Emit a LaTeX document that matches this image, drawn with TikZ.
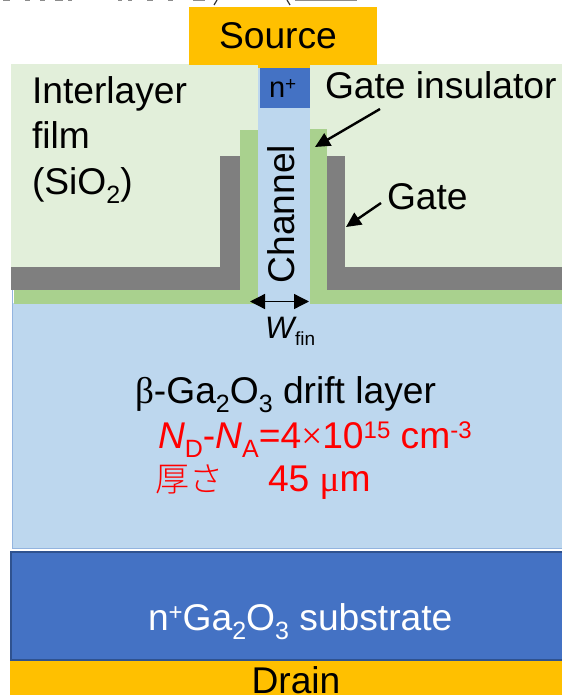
\documentclass[tikz,border=0pt]{standalone}
\usepackage{fontspec}
\setmainfont{Liberation Sans}
\newfontfamily\cjkfont{Noto Sans CJK JP Light}
\newfontfamily\symfont{Liberation Serif}
\usetikzlibrary{arrows.meta}
\definecolor{srcgold}{HTML}{FFC000}
\definecolor{ildgreen}{HTML}{E2EFDA}
\definecolor{insgreen}{HTML}{A9D18E}
\definecolor{gategray}{HTML}{7F7F7F}
\definecolor{driftblue}{HTML}{BDD7EE}
\definecolor{subblue}{HTML}{4472C4}
\definecolor{subedge}{HTML}{2F528F}
\newcommand{\lbl}{\fontsize{37.2}{40}\selectfont}
\newcommand{\lsub}[1]{\raisebox{-0.25em}{\fontsize{25}{25}\selectfont #1}}
\newcommand{\lsup}[1]{\raisebox{0.26em}{\fontsize{24}{24}\selectfont #1}}
\tikzset{
  x=1pt,y=-1pt,
  txt/.style={inner sep=0pt,outer sep=0pt,font=\lbl,text=black},
  redtxt/.style={txt,text=red,anchor=base west},
  callout/.style={line width=2.4pt,draw=black,-{Triangle[length=15pt,width=14pt]}},
  dim/.style={line width=1.3pt,draw=black,{Triangle[length=15pt,width=15pt]}-{Triangle[length=15pt,width=15pt]}},
  clipmark/.style={draw=black!45,line width=1pt}
}
\begin{document}
\begin{tikzpicture}
\useasboundingbox (0,0) rectangle (562,695);
% cut-off remains of a line of text above the picture
\foreach \a/\b in {3/10,25/30,40/45,55/63,68/72,118/122,128/132,147/153,168/173,193/205,295/357}
  \draw[clipmark] (\a,0.5) -- (\b,0.5);
\draw[line width=1.2pt,black!80] (217,0) -- (214,5);
\draw[line width=1.2pt,black!80] (287,0) -- (290,5);
% interlayer film
\fill[ildgreen] (11,64) rectangle (562,267);
\fill[ildgreen] (240,267) rectangle (327,300);
% drift and substrate
\fill[driftblue] (12,303) rectangle (562,548);
\draw[color=subblue!35!driftblue,line width=1pt] (12,290) -- (12,548) -- (562,548);
\fill[subblue] (11,552) rectangle (562,660);
\draw[subedge,line width=1.2pt] (562,552) -- (11,552) -- (11,660) -- (562,660);
\fill[srcgold] (10,661) rectangle (562,695);
% source
\fill[srcgold] (189,7) rectangle (377,65);
\fill[srcgold] (258,64) rectangle (310,68);
% insulator
\fill[insgreen] (14,290) rectangle (562,304);
\fill[insgreen] (240,130) rectangle (258,300);
\fill[insgreen] (310,129) rectangle (327,300);
% gate
\fill[gategray] (11,267) rectangle (240,290);
\fill[gategray] (220,156) rectangle (240,290);
\fill[gategray] (327,267) rectangle (562,290);
\fill[gategray] (327,156) rectangle (345,290);
% channel
\fill[driftblue] (258,68) rectangle (310,304);
\fill[subblue] (260,68) rectangle (310,108);
% texts
\node[txt,anchor=center] (src) at (278,36) {Source};
\node[txt,anchor=base west,font=\fontsize{29}{30}\selectfont] (nplus) at (269,98) {n\raisebox{0.25em}{\fontsize{19}{19}\selectfont +}};
\node[txt,anchor=base west] (ins) at (325,99) {Gate insulator};
\node[txt,anchor=base west] (ild1) at (32,103.5) {Interlayer};
\node[txt,anchor=base west] (ild2) at (32,149) {film};
\node[txt,anchor=base west] (ild3) at (32,194) {(SiO\lsub{2})};
\node[txt,anchor=base west] (gate) at (387,209) {Gate};
\node[txt,anchor=center,rotate=90] (chan) at (281,214) {Channel};
\node[txt,anchor=base west,font=\fontsize{31}{32}\selectfont] (wfin) at (265,338) {\textit{W}\kern-1.5pt\raisebox{-0.23em}{\fontsize{19}{20}\selectfont fin}};
\node[txt,anchor=base west] (drift) at (135,403) {{\symfont β}-Ga\lsub{2}O\lsub{3} drift layer};
\node[redtxt] (nd) at (158,448) {\textit{N}\lsub{D}-\textit{N}\lsub{A}=4{\symfont ×}10\lsup{15} cm\lsup{-3}};
\node[redtxt] (thick) at (155,491) {{\cjkfont\fontsize{34}{35}\selectfont 厚さ}};
\node[redtxt] (um) at (268,491.5) {45 {\symfont μ}m};
\node[txt,anchor=base west,text=white] (sub) at (148,630) {n\lsup{+}Ga\lsub{2}O\lsub{3} substrate};
\node[txt,anchor=base] (drain) at (296,693) {Drain};
% connectors
\coordinate (insfrom) at (380,109);
\coordinate (insto) at (315,147);
\coordinate (gatefrom) at (381,203);
\coordinate (gateto) at (346,227);
\coordinate (wl) at (250,301.5);
\coordinate (wr) at (309,301.5);
\draw[callout] (insfrom) -- (insto);
\draw[callout] (gatefrom) -- (gateto);
\draw[dim] (wl) -- (wr);
\end{tikzpicture}
\end{document}
